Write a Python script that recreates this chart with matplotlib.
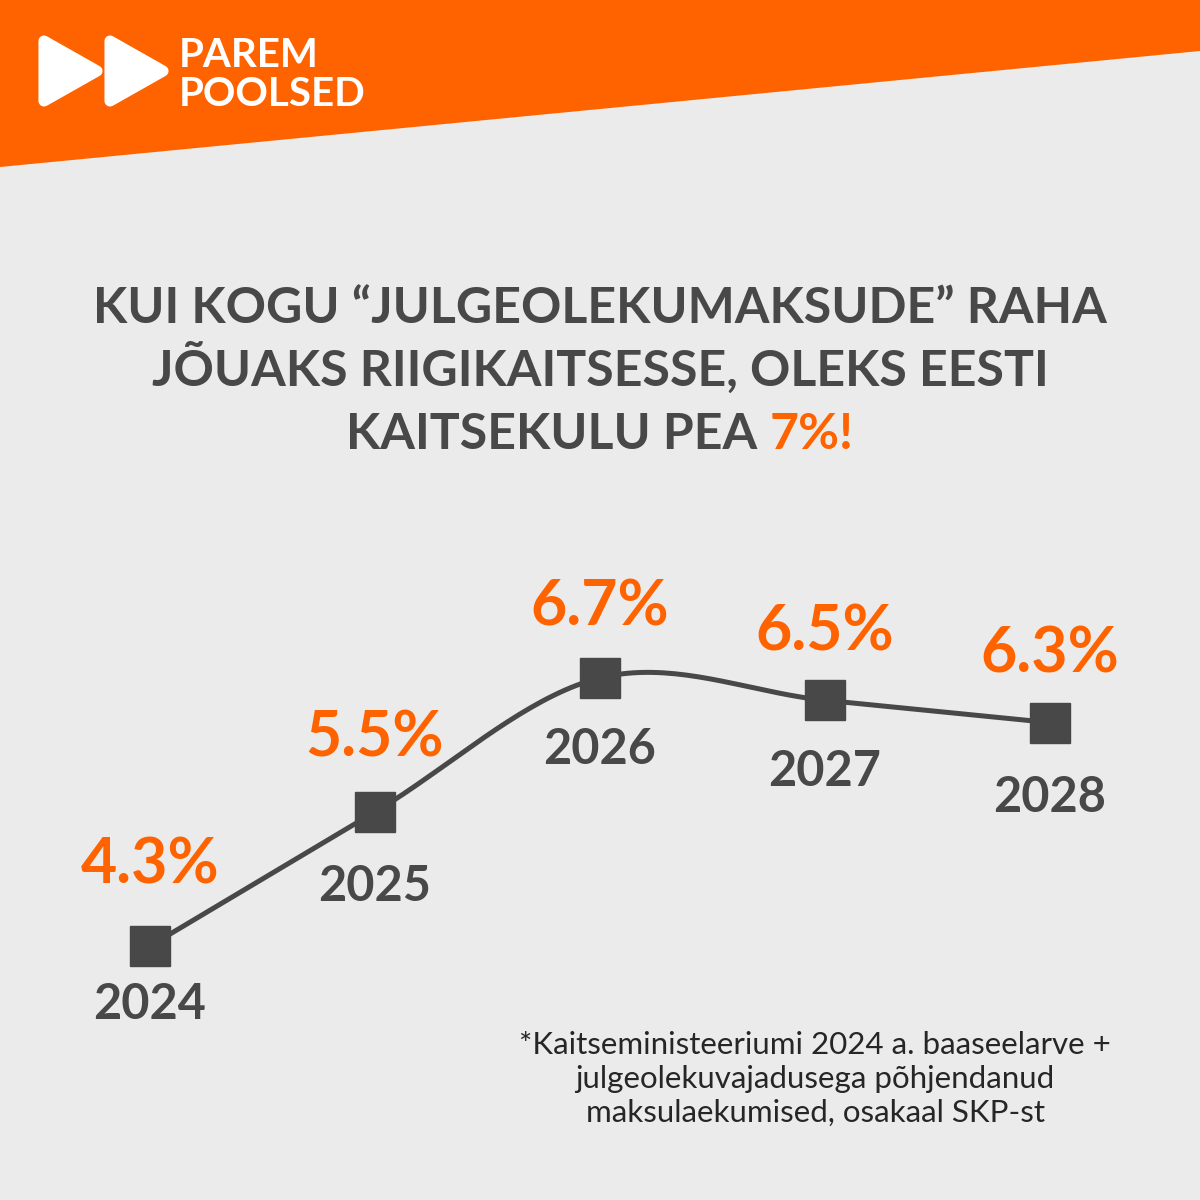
import matplotlib
matplotlib.use("Agg")
import matplotlib.pyplot as plt
import numpy as np
from matplotlib.patches import Polygon

# data
years = [2024, 2025, 2026, 2027, 2028]
values = [4.3, 5.5, 6.7, 6.5, 6.3]
value_labels = ["4.3%", "5.5%", "6.7%", "6.5%", "6.3%"]
year_labels = ["2024", "2025", "2026", "2027", "2028"]

title_lines = ["KUI KOGU \u201cJULGEOLEKUMAKSUDE\u201d RAHA",
               "J\u00d5UAKS RIIGIKAITSESSE, OLEKS EESTI"]
title_last = "KAITSEKULU PEA "
title_hl = "7%!"
footnote = ["*Kaitseministeeriumi 2024 a. baaseelarve +",
            "julgeolekuvajadusega p\u00f5hjendanud",
            "maksulaekumised, osakaal SKP-st"]

ORANGE = "#ff6300"
DARK = "#484848"
BG = "#ebebeb"
W = 1200
FONT = "Lato"

fig = plt.figure(figsize=(12, 12), dpi=100, facecolor=BG)

def px(x, y):
    return (x / W, 1 - y / W)

# orange banner with slanted edge
fig.patches.append(Polygon([px(0, 0), px(1200, 0), px(1200, 51), px(0, 167)],
                           closed=True, transform=fig.transFigure,
                           facecolor=ORANGE, edgecolor="none", zorder=0))
# logo: two rounded play triangles
for dx in (0, 66):
    tri = [px(44 + dx, 41), px(44 + dx, 101), px(97 + dx, 71)]
    fig.patches.append(Polygon(tri, closed=True, transform=fig.transFigure,
                               facecolor="white", edgecolor="white",
                               linewidth=8, joinstyle="round", zorder=1))
fig.text(*px(179, 67), "PAREM", color="white", fontsize=29, family=FONT,
         weight="bold", ha="left", va="baseline")
fig.text(*px(179, 106), "POOLSED", color="white", fontsize=29, family=FONT,
         weight="bold", ha="left", va="baseline")

# title
TS = 36
fig.text(*px(600, 323), title_lines[0], color=DARK, fontsize=TS, family=FONT,
         weight="bold", ha="center", va="baseline")
fig.text(*px(600, 386), title_lines[1], color=DARK, fontsize=TS, family=FONT,
         weight="bold", ha="center", va="baseline")
r = fig.canvas.get_renderer()
t1 = fig.text(0, 0, title_last, color=DARK, fontsize=TS, family=FONT,
              weight="bold", va="baseline")
t2 = fig.text(0, 0, title_hl, color=ORANGE, fontsize=TS, family=FONT,
              weight="bold", va="baseline")
w1 = t1.get_window_extent(r).width
w2 = t2.get_window_extent(r).width
x0 = 600 - (w1 + w2) / 2
t1.set_position(px(x0, 449))
t2.set_position(px(x0 + w1, 449))

# footnote
for i, line in enumerate(footnote):
    fig.text(*px(815, 1054 + i * 34), line, color="#262626", fontsize=22.5,
             family=FONT, weight="normal", ha="center", va="baseline")

# chart axes: map years / values onto the canvas
x_px0, x_step = 150, 225
y_px0, y_step = 946, 111.7
ax = fig.add_axes([0, 0, 1, 1])
ax.set_xlim(years[0] - x_px0 / x_step, years[0] + (W - x_px0) / x_step)
ax.set_ylim(values[0] - (W - y_px0) / y_step, values[0] + y_px0 / y_step)
ax.axis("off")
ax.patch.set_alpha(0)

# smooth (Catmull-Rom) line through the points
xs = np.array(years, dtype=float)
ys = np.array(values, dtype=float)
n = len(xs)
cx, cy = [], []
for i in range(n - 1):
    p0 = max(i - 1, 0); p3 = min(i + 2, n - 1)
    mx1 = (xs[i + 1] - xs[p0]) / (i + 1 - p0)
    my1 = (ys[i + 1] - ys[p0]) / (i + 1 - p0)
    mx2 = (xs[p3] - xs[i]) / (p3 - i)
    my2 = (ys[p3] - ys[i]) / (p3 - i)
    t = np.linspace(0, 1, 40)
    h00 = 2 * t**3 - 3 * t**2 + 1; h10 = t**3 - 2 * t**2 + t
    h01 = -2 * t**3 + 3 * t**2; h11 = t**3 - t**2
    cx.extend(h00 * xs[i] + h10 * mx1 + h01 * xs[i + 1] + h11 * mx2)
    cy.extend(h00 * ys[i] + h10 * my1 + h01 * ys[i + 1] + h11 * my2)
ax.plot(cx, cy, color=DARK, linewidth=3.6, zorder=2, solid_capstyle="round")
ax.plot(years, values, linestyle="none", marker="s", markersize=28.8,
        color=DARK, zorder=3)

# labels (offsets in pixels)
val_dy = [63, 55, 52, 50, 50]
year_dy = [-73, -89, -86, -86, -89]
for i in range(n):
    ax.annotate(value_labels[i], (years[i], values[i]), xytext=(0, val_dy[i]),
                textcoords="offset pixels", ha="center", va="baseline",
                color=ORANGE, fontsize=45, family=FONT, weight="bold")
    ax.annotate(year_labels[i], (years[i], values[i]), xytext=(0, year_dy[i]),
                textcoords="offset pixels", ha="center", va="baseline",
                color=DARK, fontsize=35, family=FONT, weight="bold")

fig.savefig("out.png", dpi=100, facecolor=BG)
